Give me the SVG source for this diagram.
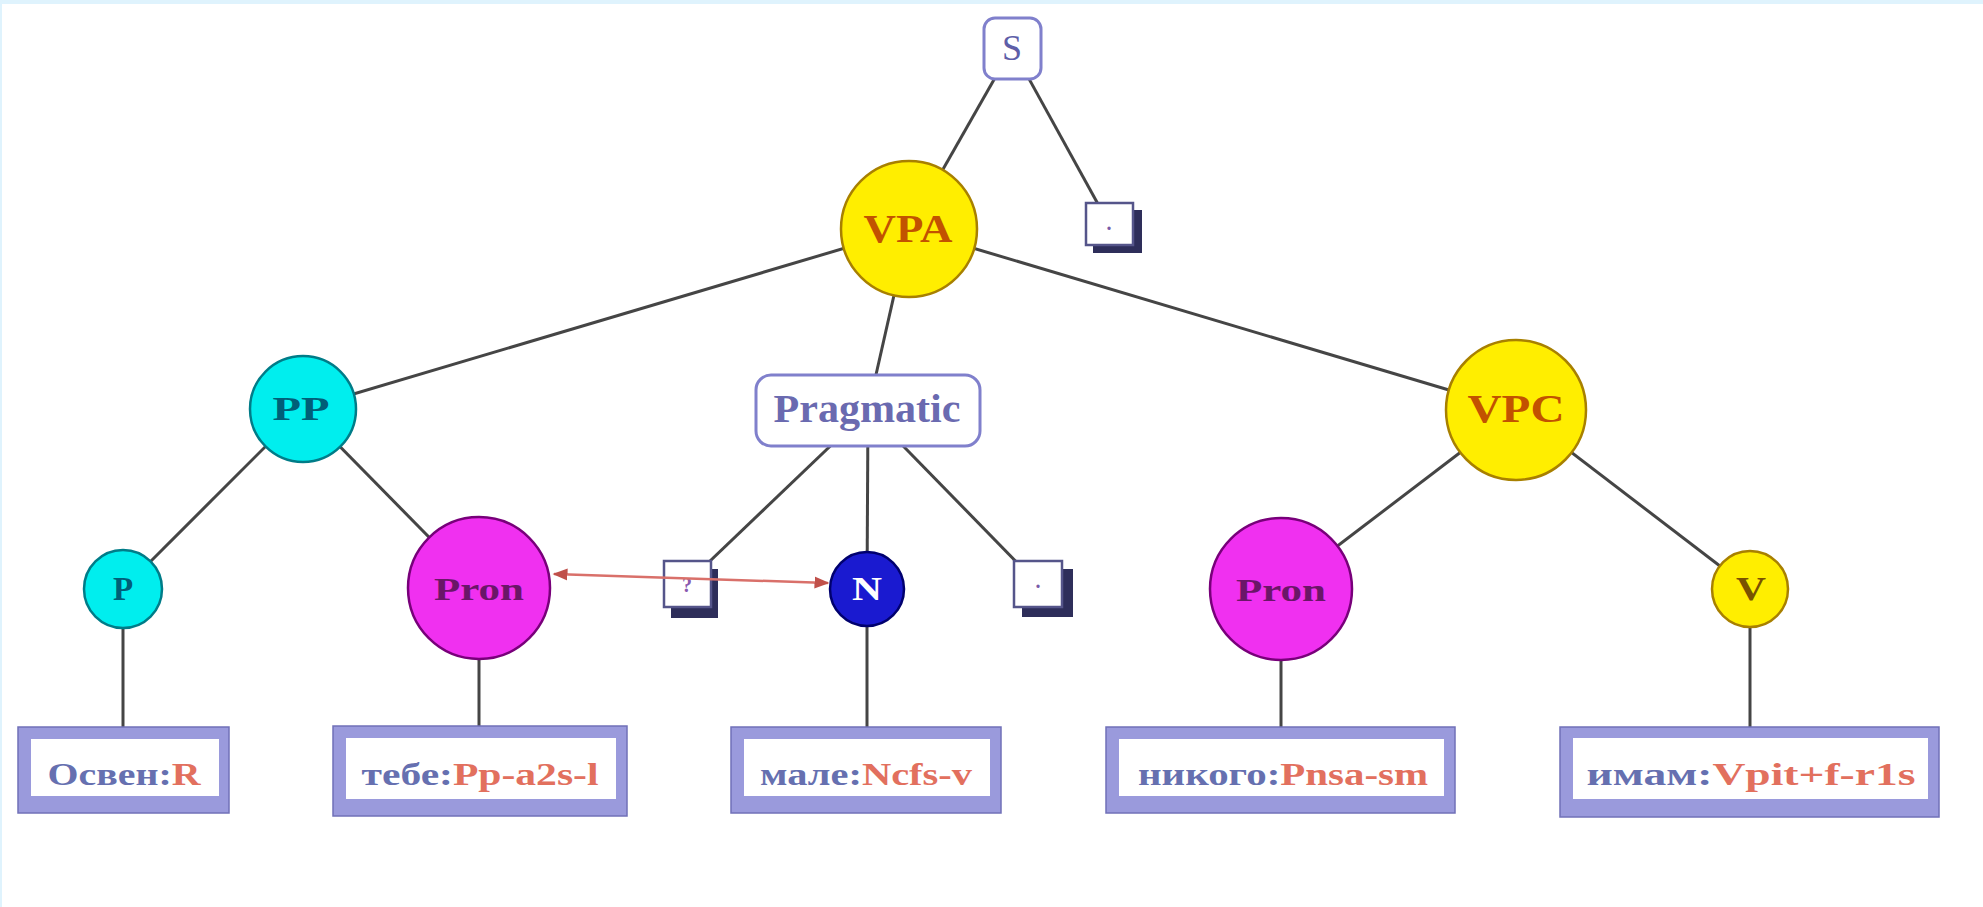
<svg xmlns="http://www.w3.org/2000/svg" width="1983" height="907" viewBox="0 0 1983 907">
  <defs>
    <style>
      .edge { stroke: #454545; stroke-width: 3; fill: none; }
      .link { stroke: #d9706a; stroke-width: 2.5; fill: none; }
      .yellow { fill: #ffee00; stroke: #a88000; stroke-width: 2.5; }
      .cyan { fill: #00eeee; stroke: #007c88; stroke-width: 2.5; }
      .magenta { fill: #f030f0; stroke: #78007a; stroke-width: 2.5; }
      .blue { fill: #1a1ad0; stroke: #00006e; stroke-width: 2.5; }
      .rbox { fill: #ffffff; stroke: #8080cc; stroke-width: 3; }
      .sq { fill: #ffffff; stroke: #55558a; stroke-width: 2.5; }
      .shadow { fill: #2e2e5a; }
      .frame { fill: #9a9adc; stroke: #7070b8; stroke-width: 1.5; }
      .inner { fill: #ffffff; }
      .lbl { font-family: "Liberation Serif", "DejaVu Serif", serif; font-weight: bold; text-anchor: middle; }
      .leaf { font-family: "Liberation Serif", "DejaVu Serif", serif; font-weight: bold; text-anchor: middle; font-size: 31px; }
      .word { fill: #6670b0; }
      .tag { fill: #e2705e; }
    </style>
    <marker id="head" viewBox="0 0 10 10" refX="9" refY="5" markerWidth="6" markerHeight="6" orient="auto-start-reverse">
      <path d="M0,1 L10,5 L0,9 z" fill="#c0504a"/>
    </marker>
  </defs>

  <!-- page background with pale edge -->
  <rect x="0" y="0" width="1983" height="907" fill="#ffffff"/>
  <rect x="0" y="0" width="1983" height="4" fill="#dff3fd"/>
  <rect x="0" y="0" width="2" height="907" fill="#dff3fd"/>

  <!-- tree edges -->
  <g id="connectors">
    <line class="edge" x1="1012" y1="48" x2="909" y2="229"/>
    <line class="edge" x1="1012" y1="48" x2="1109" y2="224"/>
    <line class="edge" x1="909" y1="229" x2="303" y2="409"/>
    <line class="edge" x1="909" y1="229" x2="868" y2="410"/>
    <line class="edge" x1="909" y1="229" x2="1516" y2="410"/>
    <line class="edge" x1="303" y1="409" x2="123" y2="589"/>
    <line class="edge" x1="303" y1="409" x2="479" y2="588"/>
    <line class="edge" x1="868" y1="410" x2="687" y2="583"/>
    <line class="edge" x1="868" y1="410" x2="867" y2="589"/>
    <line class="edge" x1="868" y1="410" x2="1037" y2="583"/>
    <line class="edge" x1="1516" y1="410" x2="1281" y2="589"/>
    <line class="edge" x1="1516" y1="410" x2="1750" y2="589"/>
    <line class="edge" x1="123" y1="589" x2="123" y2="730"/>
    <line class="edge" x1="479" y1="588" x2="479" y2="730"/>
    <line class="edge" x1="867" y1="589" x2="867" y2="730"/>
    <line class="edge" x1="1281" y1="589" x2="1281" y2="730"/>
    <line class="edge" x1="1750" y1="589" x2="1750" y2="730"/>
  </g>

  <!-- root -->
  <g id="node-S">
    <rect class="rbox" x="984" y="18" width="57" height="61" rx="11"/>
    <text class="lbl" x="1012" y="60" font-size="36" fill="#5e5ea8" style="font-weight:normal">S</text>
  </g>

  <g id="node-dot-top">
    <rect class="shadow" x="1093" y="210" width="49" height="43"/>
    <rect class="sq" x="1086" y="203" width="47" height="42"/>
    <text class="lbl" x="1109" y="230" font-size="20" fill="#7a5aa8">.</text>
  </g>

  <g id="node-VPA">
    <circle class="yellow" cx="909" cy="229" r="68"/>
    <text class="lbl" x="908" y="242" font-size="40" fill="#c25200" textLength="89" lengthAdjust="spacingAndGlyphs">VPA</text>
  </g>

  <g id="node-PP">
    <circle class="cyan" cx="303" cy="409" r="53"/>
    <text class="lbl" x="301" y="420" font-size="34" fill="#005e78" textLength="57" lengthAdjust="spacingAndGlyphs">PP</text>
  </g>

  <g id="node-Pragmatic">
    <rect class="rbox" x="756" y="375" width="224" height="71" rx="15"/>
    <text class="lbl" x="867" y="422" font-size="40" fill="#6a6ab0" textLength="187" lengthAdjust="spacingAndGlyphs">Pragmatic</text>
  </g>

  <g id="node-VPC">
    <circle class="yellow" cx="1516" cy="410" r="70"/>
    <text class="lbl" x="1516" y="422" font-size="40" fill="#c25200" textLength="97" lengthAdjust="spacingAndGlyphs">VPC</text>
  </g>

  <g id="node-P">
    <circle class="cyan" cx="123" cy="589" r="39"/>
    <text class="lbl" x="123" y="600" font-size="33" fill="#005e78">P</text>
  </g>

  <g id="node-Pron-1">
    <circle class="magenta" cx="479" cy="588" r="71"/>
    <text class="lbl" x="479" y="600" font-size="31" fill="#6a1668" textLength="90" lengthAdjust="spacingAndGlyphs">Pron</text>
  </g>

  <g id="node-q">
    <rect class="shadow" x="671" y="569" width="47" height="49"/>
    <rect class="sq" x="664" y="561" width="47" height="46"/>
    <text class="lbl" x="687" y="592" font-size="20" fill="#8a5ab0">?</text>
  </g>

  <g id="node-N">
    <circle class="blue" cx="867" cy="589" r="37"/>
    <text class="lbl" x="867" y="600" font-size="34" fill="#ffffff" textLength="30" lengthAdjust="spacingAndGlyphs">N</text>
  </g>

  <g id="node-dot-mid">
    <rect class="shadow" x="1022" y="569" width="51" height="48"/>
    <rect class="sq" x="1014" y="561" width="48" height="46"/>
    <text class="lbl" x="1038" y="588" font-size="20" fill="#7a5aa8">.</text>
  </g>

  <g id="node-Pron-2">
    <circle class="magenta" cx="1281" cy="589" r="71"/>
    <text class="lbl" x="1281" y="601" font-size="31" fill="#6a1668" textLength="90" lengthAdjust="spacingAndGlyphs">Pron</text>
  </g>

  <g id="node-V">
    <circle class="yellow" cx="1750" cy="589" r="38"/>
    <text class="lbl" x="1751" y="600" font-size="33" fill="#7a5200" textLength="30" lengthAdjust="spacingAndGlyphs">V</text>
  </g>

  <!-- coreference link -->
  <g id="link">
    <line class="link" x1="554" y1="574" x2="828" y2="583" marker-start="url(#head)" marker-end="url(#head)"/>
  </g>

  <!-- word leaves -->
  <g id="leaf-osven">
    <rect class="frame" x="18" y="727" width="211" height="86"/>
    <rect class="inner" x="31" y="739" width="188" height="57"/>
    <text class="leaf" x="124" y="785" textLength="153" lengthAdjust="spacingAndGlyphs"><tspan class="word">Освен:</tspan><tspan class="tag">R</tspan></text>
  </g>

  <g id="leaf-tebe">
    <rect class="frame" x="333" y="726" width="294" height="90"/>
    <rect class="inner" x="346" y="738" width="270" height="61"/>
    <text class="leaf" x="480" y="785" textLength="237" lengthAdjust="spacingAndGlyphs"><tspan class="word">тебе:</tspan><tspan class="tag">Pp-a2s-l</tspan></text>
  </g>

  <g id="leaf-male">
    <rect class="frame" x="731" y="727" width="270" height="86"/>
    <rect class="inner" x="744" y="739" width="246" height="57"/>
    <text class="leaf" x="866" y="785" textLength="212" lengthAdjust="spacingAndGlyphs"><tspan class="word">мале:</tspan><tspan class="tag">Ncfs-v</tspan></text>
  </g>

  <g id="leaf-nikogo">
    <rect class="frame" x="1106" y="727" width="349" height="86"/>
    <rect class="inner" x="1119" y="739" width="325" height="57"/>
    <text class="leaf" x="1283" y="785" textLength="290" lengthAdjust="spacingAndGlyphs"><tspan class="word">никого:</tspan><tspan class="tag">Pnsa-sm</tspan></text>
  </g>

  <g id="leaf-imam">
    <rect class="frame" x="1560" y="727" width="379" height="90"/>
    <rect class="inner" x="1573" y="738" width="355" height="61"/>
    <text class="leaf" x="1751" y="785" textLength="329" lengthAdjust="spacingAndGlyphs"><tspan class="word">имам:</tspan><tspan class="tag">Vpit+f-r1s</tspan></text>
  </g>
</svg>
